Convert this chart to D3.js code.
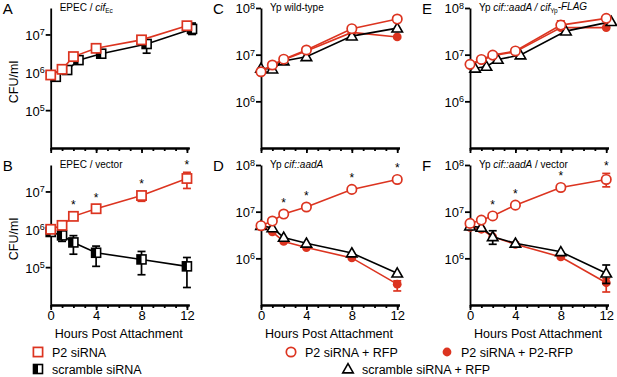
<!DOCTYPE html>
<html>
<head>
<meta charset="utf-8">
<script src="https://d3js.org/d3.v7.min.js"></script>
<style>
  body { margin: 0; background: #fff; }
  svg { font-family: "Liberation Sans", Arial, Helvetica, sans-serif; }
  .axis path, .axis line { stroke: #000; stroke-width: 1.8px; }
  .axis text { font-size: 12px; fill: #000; }
</style>
</head>
<body>
<svg id="fig" width="617" height="377"></svg>
<script>
// ---- data ----
const hours = [0, 1, 2, 4, 8, 12];
const hoursShifted = [0.45, 1.45, 2.45, 4.45, 8.45, 12.45]; // scramble plotted slightly right in A and E
const xTicks = [0, 4, 8, 12];
const xMinor = [0, 1, 2, 3, 4, 5, 6, 7, 8, 9, 10, 11, 12];

// A: EPEC / cif
const aP2 = [8.5e5, 1.2e6, 2.6e6, 4.3e6, 7.2e6, 1.7e7];
const aScr = [7.6e5, 1.15e6, 2.1e6, 3.1e6, 5.6e6, 1.4e7];
const aScrErr = [null, null, null, null, [3.2e6, 7.0e6], [1.0e7, 2.0e7]];

// B: EPEC / vector
const bP2 = [1.0e6, 1.27e6, 2.2e6, 3.5e6, 7.8e6, 2.2e7];
const bP2Err = [null, null, null, null, [5.5e6, 1.0e7], [1.2e7, 3.2e7]];
const bScr = [8.5e5, 6.9e5, 4.5e5, 2.4e5, 1.6e5, 1.05e5];
const bScrErr = [null, [4.8e5, 9.8e5], [2.2e5, 6.8e5], [1.05e5, 3.6e5], [6.3e4, 2.6e5], [2.9e4, 1.8e5]];

// C: Yp wild-type
const cRfp = [4.3e6, 6.0e6, 8.0e6, 1.26e7, 3.6e7, 5.8e7];
const cP2Rfp = [4.5e6, 5.8e6, 7.8e6, 1.2e7, 3.0e7, 2.4e7];
const cScr = [5.1e6, 4.9e6, 7.3e6, 9.0e6, 2.5e7, 3.7e7];

// D: Yp cif::aadA
const dRfp = [5.0e6, 6.3e6, 8.9e6, 1.26e7, 3.0e7, 4.9e7];
const dP2Rfp = [5.0e6, 3.7e6, 2.3e6, 1.7e6, 1.02e6, 2.8e5];
const dP2RfpErr = [null, null, null, null, null, [2.0e5, 3.3e5]];
const dScr = [5.0e6, 4.5e6, 2.8e6, 2.1e6, 1.3e6, 4.8e5];

// E: Yp cif::aadA / cif-FLAG
const eRfp = [6.2e6, 7.9e6, 9.8e6, 1.2e7, 4.3e7, 6.0e7];
const eRfpErr = [null, null, null, null, [3.5e7, 5.3e7], null];
const eP2Rfp = [6.0e6, 7.5e6, 9.5e6, 1.15e7, 3.8e7, 3.8e7];
const eScr = [5.1e6, 5.6e6, 7.9e6, 9.8e6, 3.2e7, 5.1e7];

// F: Yp cif::aadA / vector
const fRfp = [5.6e6, 6.6e6, 8.1e6, 1.38e7, 3.3e7, 4.9e7];
const fRfpErr = [null, null, null, null, null, [3.4e7, 6.6e7]];
const fP2Rfp = [4.6e6, 4.2e6, 2.9e6, 2.0e6, 1.07e6, 3.0e5];
const fP2RfpErr = [null, null, null, null, null, [1.9e5, 3.7e5]];
const fScr = [4.9e6, 4.6e6, 2.9e6, 2.1e6, 1.38e6, 4.8e5];
const fScrErr = [[4.2e6, 5.6e6], null, [2.0e6, 3.9e6], null, null, [2.9e5, 7.2e5]];

const starIdx = [2, 3, 4, 5]; // significant time points in B, D, F

const RED = "#dc3420";
const svg = d3.select("#fig");

const panels = [
  { letter: "A", x0: 50.7, top: 8, bottom: 148, domain: [1e4, 5e7], ticks: [1e5, 1e6, 1e7], labels: false,
    title: [["EPEC / ", ""], ["cif", "i"], ["Ec", "sub"]],
    series: [
      { x: hoursShifted, y: aScr, err: aScrErr, sym: "half", color: "#000" },
      { x: hours, y: aP2, err: null, sym: "square", color: RED }
    ] },
  { letter: "B", x0: 50.7, top: 165, bottom: 305, domain: [1e4, 5e7], ticks: [1e5, 1e6, 1e7], labels: true,
    title: [["EPEC / vector", ""]], star: bP2, starErr: bP2Err,
    series: [
      { x: hours, y: bScr, err: bScrErr, sym: "half", color: "#000" },
      { x: hours, y: bP2, err: bP2Err, sym: "square", color: RED }
    ] },
  { letter: "C", x0: 261, top: 8, bottom: 148, domain: [1e5, 1e8], ticks: [1e6, 1e7, 1e8], labels: false,
    title: [["Yp wild-type", ""]],
    series: [
      { x: hours, y: cP2Rfp, err: null, sym: "dot", color: RED },
      { x: hours, y: cScr, err: null, sym: "tri", color: "#000" },
      { x: hours, y: cRfp, err: null, sym: "circle", color: RED }
    ] },
  { letter: "D", x0: 261, top: 165, bottom: 305, domain: [1e5, 1e8], ticks: [1e6, 1e7, 1e8], labels: true,
    title: [["Yp ", ""], ["cif::aadA", "i"]], star: dRfp, starErr: null,
    series: [
      { x: hours, y: dP2Rfp, err: dP2RfpErr, sym: "dot", color: RED },
      { x: hours, y: dScr, err: null, sym: "tri", color: "#000" },
      { x: hours, y: dRfp, err: null, sym: "circle", color: RED }
    ] },
  { letter: "E", x0: 470, top: 8, bottom: 148, domain: [1e5, 1e8], ticks: [1e6, 1e7, 1e8], labels: false,
    title: [["Yp ", ""], ["cif::aadA / cif", "i"], ["Yp", "sub"], ["-FLAG", "i"]],
    series: [
      { x: hours, y: eP2Rfp, err: null, sym: "dot", color: RED },
      { x: hoursShifted, y: eScr, err: null, sym: "tri", color: "#000" },
      { x: hours, y: eRfp, err: eRfpErr, sym: "circle", color: RED }
    ] },
  { letter: "F", x0: 470, top: 165, bottom: 305, domain: [1e5, 1e8], ticks: [1e6, 1e7, 1e8], labels: true,
    title: [["Yp ", ""], ["cif::aadA", "i"], [" / vector", ""]], star: fRfp, starErr: fRfpErr,
    series: [
      { x: hours, y: fP2Rfp, err: fP2RfpErr, sym: "dot", color: RED },
      { x: hours, y: fScr, err: fScrErr, sym: "tri", color: "#000" },
      { x: hours, y: fRfp, err: fRfpErr, sym: "circle", color: RED }
    ] }
];

const tri = d3.symbol().type(d3.symbolTriangle).size(48);

function drawSymbol(g, sym, color, cx, cy) {
  if (sym === "square") {
    g.append("rect").attr("x", cx - 4.6).attr("y", cy - 4.6).attr("width", 9.2).attr("height", 9.2)
      .attr("fill", "#fff").attr("stroke", color).attr("stroke-width", 1.7);
  } else if (sym === "half") {
    g.append("rect").attr("x", cx - 4.5).attr("y", cy - 4.5).attr("width", 9).attr("height", 9)
      .attr("fill", "#fff").attr("stroke", "#000").attr("stroke-width", 1.6);
    g.append("rect").attr("x", cx - 4.5).attr("y", cy - 4.5).attr("width", 4.5).attr("height", 9)
      .attr("fill", "#000");
  } else if (sym === "circle") {
    g.append("circle").attr("cx", cx).attr("cy", cy).attr("r", 4.7)
      .attr("fill", "#fff").attr("stroke", color).attr("stroke-width", 1.7);
  } else if (sym === "dot") {
    g.append("circle").attr("cx", cx).attr("cy", cy).attr("r", 4.4).attr("fill", color);
  } else if (sym === "tri") {
    g.append("path").attr("d", tri).attr("transform", `translate(${cx},${cy + 0.8})`)
      .attr("fill", "#fff").attr("stroke", "#000").attr("stroke-width", 1.6);
  }
}

panels.forEach((p) => {
  const x = d3.scaleLinear().domain([0, 12.2]).range([p.x0, p.x0 + 138.5]);
  const y = d3.scaleLog().domain(p.domain).range([p.bottom, p.top]);
  const g = svg.append("g");

  // y axis
  const ya = g.append("g").attr("class", "axis").attr("transform", `translate(${p.x0},0)`)
    .call(d3.axisLeft(y).tickValues(p.ticks).tickSize(5).tickSizeOuter(0).tickFormat(""));
  ya.selectAll(".tick").each(function (d) {
    const t = d3.select(this).append("text").attr("x", -6).attr("dy", "0.38em")
      .attr("text-anchor", "end").style("font-size", "13px").attr("fill", "#000");
    t.append("tspan").text("10");
    t.append("tspan").attr("dy", "-0.5em").style("font-size", "9px").text(Math.round(Math.log10(d)));
  });

  // x axis: minor + major ticks
  g.append("g").attr("class", "axis").attr("transform", `translate(0,${p.bottom})`)
    .call(d3.axisBottom(x).tickValues(xMinor).tickSize(3).tickSizeOuter(0).tickFormat(""));
  const xa = g.append("g").attr("class", "axis").attr("transform", `translate(0,${p.bottom})`)
    .call(d3.axisBottom(x).tickValues(xTicks).tickSize(5).tickSizeOuter(0)
      .tickFormat(p.labels ? d3.format("d") : ""));
  xa.selectAll("text").attr("dy", "0.5em").style("font-size", "13px");

  if (p.labels) {
    g.append("text").attr("x", p.x0 + 68).attr("y", 337.5).attr("text-anchor", "middle")
      .style("font-size", "12.5px").text("Hours Post Attachment");
  }
  if (p.letter === "A" || p.letter === "B") {
    g.append("text").attr("transform", `translate(18,${(p.top + p.bottom) / 2 + 4}) rotate(-90)`)
      .attr("text-anchor", "middle").style("font-size", "12.5px").text("CFU/ml");
  }

  // panel letter
  g.append("text").attr("x", p.x0 - 48).attr("y", p.top + 6).style("font-size", "15px").text(p.letter);

  // title
  const tt = g.append("text").attr("x", p.x0 + 9).attr("y", p.top + 3).style("font-size", "10px");
  p.title.forEach(([s, kind]) => {
    const span = tt.append("tspan").text(s);
    if (kind === "i") span.style("font-style", "italic");
    if (kind === "sub") span.style("font-size", "6.5px").attr("dy", "0.3em");
  });
  // reset baseline after subscripts
  tt.selectAll("tspan").each(function (d, i, nodes) {
    const prev = i > 0 ? d3.select(nodes[i - 1]) : null;
    if (prev && prev.attr("dy") && !d3.select(this).attr("dy")) d3.select(this).attr("dy", "-0.3em");
  });

  // series
  const line = d3.line().x((d) => x(d[0])).y((d) => y(d[1]));
  p.series.forEach((s) => {
    const pts = s.x.map((h, i) => [h, s.y[i]]);
    const sg = g.append("g");
    if (s.err) {
      s.err.forEach((e, i) => {
        if (!e) return;
        const cx = x(s.x[i]);
        sg.append("line").attr("x1", cx).attr("x2", cx).attr("y1", y(e[0])).attr("y2", y(e[1]))
          .attr("stroke", s.color).attr("stroke-width", 1.7);
        e.forEach((v) => sg.append("line").attr("x1", cx - 4).attr("x2", cx + 4)
          .attr("y1", y(v)).attr("y2", y(v)).attr("stroke", s.color).attr("stroke-width", 1.7));
      });
    }
    sg.append("path").datum(pts).attr("d", line).attr("fill", "none")
      .attr("stroke", s.color).attr("stroke-width", 1.6);
    pts.forEach((d) => drawSymbol(sg, s.sym, s.color, x(d[0]), y(d[1])));
  });

  // significance stars
  if (p.star) {
    starIdx.forEach((i) => {
      const e = p.starErr && p.starErr[i];
      const yy = e ? y(e[1]) - 3 : y(p.star[i]) - 7;
      g.append("text").attr("x", x(hours[i])).attr("y", yy).attr("text-anchor", "middle")
        .style("font-size", "12px").text("*");
    });
  }
});

// legend
const legend = svg.append("g").style("font-size", "12.5px");
const legendItems = [
  { sym: "square", color: RED, cx: 38, cy: 352, label: "P2 siRNA" },
  { sym: "half", color: "#000", cx: 38, cy: 369, label: "scramble siRNA" },
  { sym: "circle", color: RED, cx: 291, cy: 352, label: "P2 siRNA + RFP" },
  { sym: "dot", color: RED, cx: 447, cy: 352, label: "P2 siRNA + P2-RFP" },
  { sym: "tri", color: "#000", cx: 348, cy: 369, label: "scramble siRNA + RFP" }
];
legendItems.forEach((d) => {
  drawSymbol(legend, d.sym, d.color, d.cx, d.cy);
  legend.append("text").attr("x", d.cx + 14).attr("y", d.cy + 4.5).text(d.label);
});
</script>
</body>
</html>
